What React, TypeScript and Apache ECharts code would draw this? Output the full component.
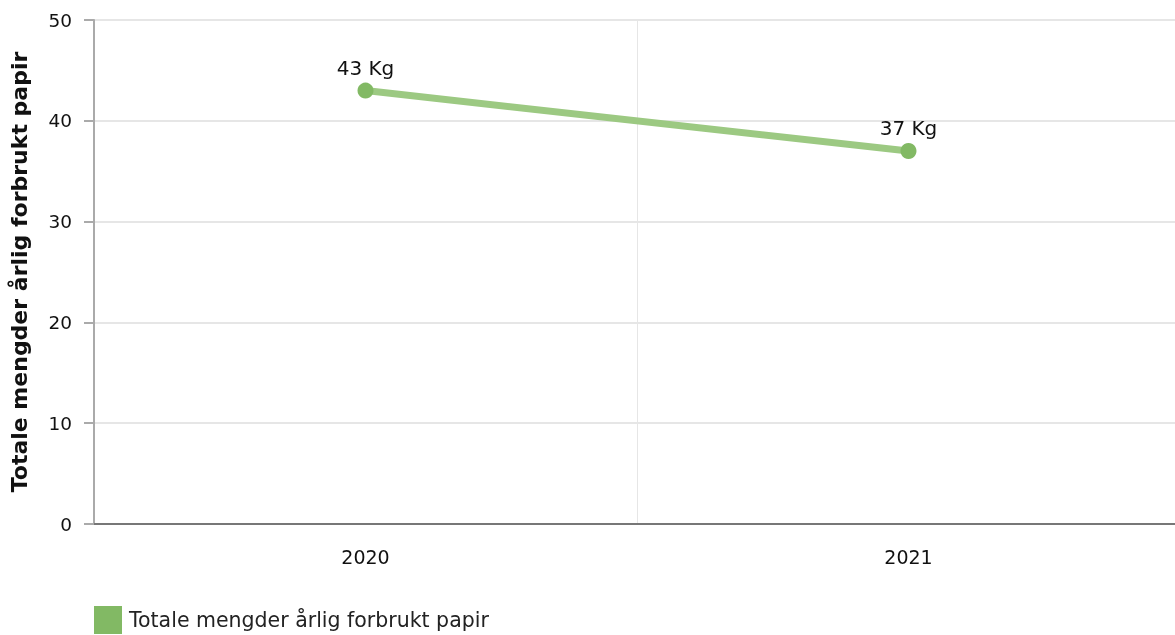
import React, { useEffect, useRef } from "react";
import * as echarts from "echarts";

const categories = ["2020", "2021"];
const values = [43, 37];
const seriesName = "Totale mengder årlig forbrukt papir";
const yAxisName = "Totale mengder årlig forbrukt papir";

export default function App() {
  const ref = useRef<HTMLDivElement>(null);
  useEffect(() => {
    const chart = echarts.init(ref.current!, null, { renderer: "svg" });
    chart.setOption({
      animation: false,
      textStyle: { fontFamily: "DejaVu Sans" },
      grid: { left: 94, right: -5, top: 20, bottom: 111, outerBoundsMode: "none", containLabel: false },
      legend: {
        left: 94,
        bottom: 1,
        padding: 0,
        itemWidth: 28,
        itemHeight: 28,
        icon: "rect",
        itemGap: 6,
        textStyle: { fontSize: 20.5, color: "#222", fontFamily: "DejaVu Sans", padding: [0, 0, 0, 2] },
        data: [{ name: seriesName, itemStyle: { color: "#82b964" } }],
      },
      xAxis: {
        type: "category",
        data: categories,
        axisLine: { lineStyle: { color: "#777", width: 2 } },
        axisTick: { alignWithLabel: true, length: 7, lineStyle: { color: "#bbb", width: 2 } },
        axisLabel: { fontSize: 19, color: "#111", margin: 23 },
        splitLine: { show: true, lineStyle: { color: "#e6e6e6", width: 1 } },
      },
      yAxis: {
        type: "value",
        min: 0,
        max: 50,
        interval: 10,
        name: yAxisName,
        nameLocation: "middle",
        nameGap: 64,
        nameTextStyle: { fontSize: 22, fontWeight: "bold", color: "#111" },
        axisLine: { show: true, lineStyle: { color: "#aaa", width: 2 } },
        axisTick: { show: true, length: 10, lineStyle: { color: "#aaa", width: 2 } },
        axisLabel: { fontSize: 18.5, color: "#111", margin: 22 },
        splitLine: { lineStyle: { color: "#e6e6e6", width: 2 } },
      },
      series: [
        {
          name: seriesName,
          type: "line",
          data: values,
          symbol: "circle",
          symbolSize: 16,
          itemStyle: { color: "#82b964" },
          lineStyle: { color: "#9cc982", width: 7 },
          label: {
            show: true,
            position: "top",
            distance: 5,
            formatter: "{c} Kg",
            fontSize: 20,
            color: "#111",
          },
        },
      ],
    });
    return () => chart.dispose();
  }, []);
  return (
    <div
      ref={ref}
      style={{ position: "fixed", left: 0, top: 0, width: 1175, height: 635 }}
    />
  );
}
